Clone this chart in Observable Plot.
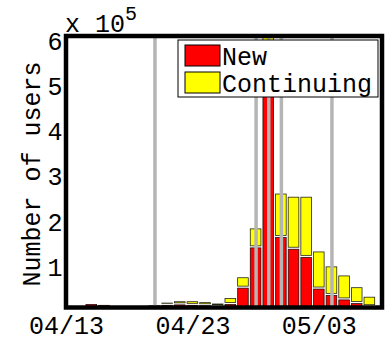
<!DOCTYPE html>
<html><head><meta charset="utf-8">
<script src="https://cdn.jsdelivr.net/npm/d3@7"></script>
<script src="https://cdn.jsdelivr.net/npm/@observablehq/plot@0.6"></script>
<style>body{margin:0;background:#fff}</style>
</head><body>
<script>
// Daily users (2009)
const dates = ["04/14","04/15","04/16","04/17","04/18","04/19","04/20","04/21","04/22","04/23","04/24","04/25",
               "04/26","04/27","04/28","04/29","04/30","05/01","05/02","05/03","05/04","05/05","05/06","05/07"];
const newUsers = [4000, 9000, 7000, 4000, 4000, 4000, 6000, 7000, 8000, 7000, 6000, 4000,
                  9000, 45000, 134000, 585000, 157000, 131000, 113000, 43000, 29000, 19000, 11000, 4000];
const continuingUsers = [0, 2000, 1000, 0, 0, 0, 1000, 5000, 7000, 8000, 7000, 6000,
                  13000, 23000, 42000, 100000, 96000, 115000, 133000, 82000, 63000, 53000, 35000, 21000];
const eventDates = ["04/20","04/28","04/29","04/30","05/04"];
const xTickDates = ["04/13","04/23","05/03"];
const yTicks = [1,2,3,4,5,6]; // x 10^5
const seriesNames = ["New","Continuing"];
const seriesColors = ["#ff0000","#ffff00"];

const DAY = 864e5;
const parse = s => new Date(Date.UTC(2009, +s.slice(0,2) - 1, +s.slice(3)));
const rows = dates.flatMap((d, i) => [
  {date: parse(d), series: seriesNames[0], value: newUsers[i]},
  {date: parse(d), series: seriesNames[1], value: continuingUsers[i]}
]);
const FONT = "'Liberation Mono', 'Courier New', 'DejaVu Sans Mono', monospace";
const M = {top: 36, bottom: 33.5, left: 66, right: 10};
const W = 392, H = 341;

const svg = Plot.plot({
  width: W, height: H,
  marginTop: M.top, marginBottom: M.bottom, marginLeft: M.left, marginRight: M.right,
  style: {fontFamily: FONT, fontSize: "25px", color: "#000", background: "#fff"},
  x: {type: "utc", domain: [parse("04/13"), parse("05/08")]},
  y: {domain: [0, 6e5]},
  color: {domain: seriesNames, range: seriesColors},
  marks: [
    Plot.rectY(rows, {
      x1: d => new Date(+d.date - 0.5 * DAY),
      x2: d => new Date(+d.date + 0.5 * DAY),
      y: "value", fill: "series",
      stroke: "#000", strokeWidth: 0.8, strokeOpacity: 0.85,
      inset: 1, clip: true
    }),
    Plot.ruleX(eventDates.map(parse), {stroke: "#b5b5b5", strokeWidth: 3.5}),
    Plot.axisX({ticks: xTickDates.map(parse), tickSize: 0, tickPadding: 8,
                tickFormat: d3.utcFormat("%m/%d"), fontSize: 25, label: null}),
    Plot.axisY({ticks: yTicks.map(v => v * 1e5), tickSize: 0, tickPadding: 4,
                tickFormat: d => d / 1e5, fontSize: 25, dy: 5, label: null})
  ]
});
document.body.appendChild(svg);

const s = d3.select(svg);
// thick axes box
s.append("rect")
  .attr("x", M.left).attr("y", M.top)
  .attr("width", W - M.left - M.right).attr("height", H - M.top - M.bottom)
  .attr("fill", "none").attr("stroke", "#000").attr("stroke-width", 4.5);
// y title
s.append("text")
  .attr("transform", "translate(33,174) rotate(-90)")
  .attr("text-anchor", "middle").attr("dominant-baseline", "central")
  .attr("font-family", FONT).attr("font-size", 25).attr("fill", "#000")
  .text("Number of users");
// exponent
const ex = s.append("text").attr("x", 65).attr("y", 32).attr("text-anchor", "start")
  .attr("font-family", FONT).attr("font-size", 25).attr("fill", "#000");
ex.append("tspan").text("x 10");
ex.append("tspan").attr("font-size", 20).attr("dy", -12).text("5");
// legend
const lg = s.append("g");
lg.append("rect").attr("x", 178).attr("y", 40).attr("width", 200).attr("height", 57)
  .attr("fill", "#fff").attr("stroke", "#000").attr("stroke-width", 1);
seriesNames.forEach((name, i) => {
  lg.append("rect").attr("x", 185).attr("y", 45 + i * 27).attr("width", 35).attr("height", 21)
    .attr("fill", seriesColors[i]).attr("stroke", "#000").attr("stroke-width", 1);
  lg.append("text").attr("x", 222).attr("y", 65 + i * 27).attr("text-anchor", "start")
    .attr("font-family", FONT).attr("font-size", 25).attr("fill", "#000").text(name);
});
</script>
</body></html>
